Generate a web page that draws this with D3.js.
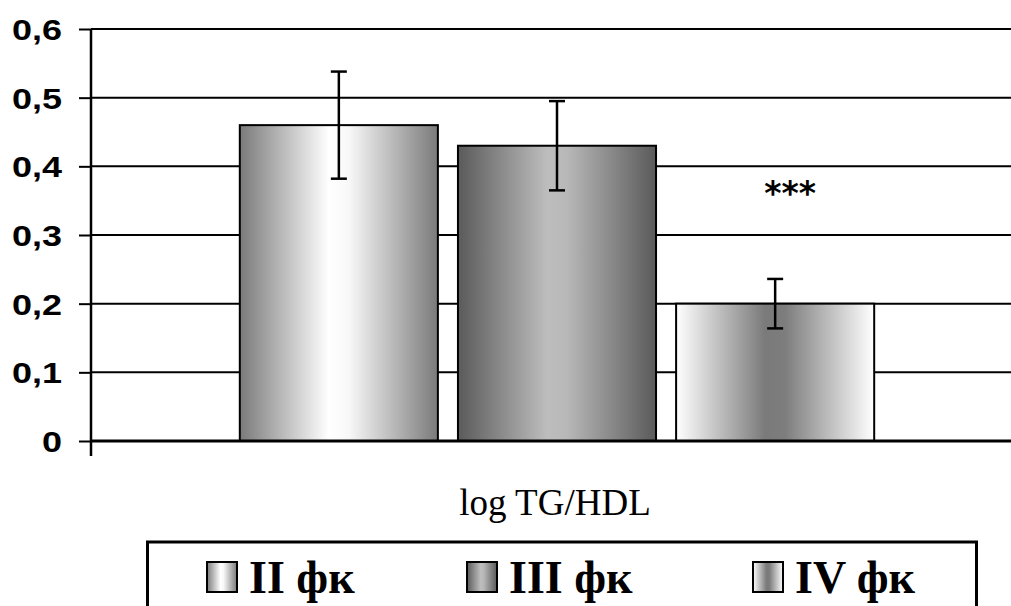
<!DOCTYPE html>
<html>
<head>
<meta charset="utf-8">
<script src="https://cdn.jsdelivr.net/npm/d3@7/dist/d3.min.js"></script>
<style>
html,body{margin:0;padding:0;background:#fff;}
svg{display:block;}
</style>
</head>
<body>
<svg id="chart" width="1011" height="606"></svg>
<script>
const categories = ["log TG/HDL"];
const series = ["II фк", "III фк", "IV фк"];
const means = [0.46, 0.43, 0.20];
const errors = [0.078, 0.065, 0.036];
const yTicks = [0, 0.1, 0.2, 0.3, 0.4, 0.5, 0.6];
const yTickLabels = ["0", "0,1", "0,2", "0,3", "0,4", "0,5", "0,6"];
const annotation = "***";

const svg = d3.select("#chart");
const W = 1011, H = 606;
const plot = {left: 91, right: 1023, top: 29, bottom: 441};

const y = d3.scaleLinear().domain([0, 0.6]).range([plot.bottom, plot.top]);
const x0 = d3.scaleBand().domain(categories).range([plot.left, plot.right]).paddingInner(0.19).paddingOuter(0.19);
const x1 = d3.scaleBand().domain(series).range([0, x0.bandwidth()]).paddingInner(0.092).paddingOuter(0);

// gradients
const defs = svg.append("defs");
const gradStops = [
  [["0%","#7a7a7a"],["45%","#ffffff"],["55%","#f8f8f8"],["100%","#7a7a7a"]],
  [["0%","#5a5a5a"],["45%","#bdbdbd"],["55%","#b8b8b8"],["100%","#5a5a5a"]],
  [["0%","#ffffff"],["45%","#7a7a7a"],["55%","#7d7d7d"],["100%","#ffffff"]]
];
gradStops.forEach((stops, i) => {
  const g = defs.append("linearGradient").attr("id", "g" + i)
    .attr("x1", "0%").attr("x2", "100%").attr("y1", "0%").attr("y2", "0%");
  stops.forEach(s => g.append("stop").attr("offset", s[0]).attr("stop-color", s[1]));
});

// gridlines
svg.append("g").selectAll("line").data(yTicks.slice(1)).join("line")
  .attr("x1", plot.left).attr("x2", W)
  .attr("y1", d => y(d)).attr("y2", d => y(d))
  .attr("stroke", "#000").attr("stroke-width", 2);

// y axis
const sx = 1.22;
const yAxis = d3.axisLeft(y).tickValues(yTicks).tickSize(12).tickFormat((d, i) => yTickLabels[i]);
const ga = svg.append("g").attr("transform", `translate(${plot.left},0)`).call(yAxis);
ga.select(".domain").remove();
ga.selectAll(".tick line").attr("stroke", "#000").attr("stroke-width", 2);
ga.selectAll(".tick text")
  .attr("x", -29 / sx).attr("dy", "0.36em")
  .attr("transform", `scale(${sx},1)`)
  .attr("font-family", "Liberation Sans, Arial").attr("font-weight", "bold").attr("font-size", 29.5).attr("fill", "#000");
svg.append("line").attr("x1", plot.left).attr("x2", plot.left)
  .attr("y1", plot.top).attr("y2", plot.bottom + 15)
  .attr("stroke", "#000").attr("stroke-width", 2.5);

// bars
const data = series.map((s, i) => ({s, i, v: means[i], e: errors[i]}));
const gb = svg.append("g").attr("transform", `translate(${x0(categories[0])},0)`);
gb.selectAll("rect").data(data).join("rect")
  .attr("x", d => x1(d.s)).attr("width", x1.bandwidth())
  .attr("y", d => y(d.v)).attr("height", d => y(0) - y(d.v))
  .attr("fill", d => `url(#g${d.i})`).attr("stroke", "#000").attr("stroke-width", 2);

// zero line
svg.append("line").attr("x1", plot.left).attr("x2", W)
  .attr("y1", y(0)).attr("y2", y(0)).attr("stroke", "#000").attr("stroke-width", 3);

// error bars
const ge = gb.selectAll("g.err").data(data).join("g").attr("class", "err");
ge.append("line")
  .attr("x1", d => x1(d.s) + x1.bandwidth() / 2).attr("x2", d => x1(d.s) + x1.bandwidth() / 2)
  .attr("y1", d => y(d.v + d.e)).attr("y2", d => y(d.v - d.e))
  .attr("stroke", "#000").attr("stroke-width", 2.5);
[1, -1].forEach(sg => {
  ge.append("line")
    .attr("x1", d => x1(d.s) + x1.bandwidth() / 2 - 8).attr("x2", d => x1(d.s) + x1.bandwidth() / 2 + 8)
    .attr("y1", d => y(d.v + sg * d.e)).attr("y2", d => y(d.v + sg * d.e))
    .attr("stroke", "#000").attr("stroke-width", 2.5);
});

// annotation
gb.append("text").attr("x", x1(series[2]) + x1.bandwidth() / 2 + 15).attr("y", y(0.344))
  .attr("text-anchor", "middle")
  .attr("font-family", "DejaVu Sans").attr("font-weight", "bold").attr("font-size", 33)
  .text(annotation);

// category label
svg.append("text").attr("x", x0(categories[0]) + x0.bandwidth() / 2 - 2).attr("y", 515)
  .attr("text-anchor", "middle")
  .attr("font-family", "Liberation Serif").attr("font-size", 37)
  .text(categories[0]);

// legend
svg.append("rect").attr("x", 147.5).attr("y", 542).attr("width", 829).attr("height", 80)
  .attr("fill", "none").attr("stroke", "#000").attr("stroke-width", 3);
const legX = [207, 467, 753];
const lg = svg.append("g").selectAll("g").data(data).join("g")
  .attr("transform", d => `translate(${legX[d.i]},562)`);
lg.append("rect").attr("width", 30).attr("height", 30)
  .attr("fill", d => `url(#g${d.i})`).attr("stroke", "#000").attr("stroke-width", 2);
lg.append("text").attr("x", 42).attr("y", 31)
  .attr("font-family", "Liberation Serif").attr("font-weight", "bold").attr("font-size", 46)
  .text(d => d.s);
</script>
</body>
</html>
